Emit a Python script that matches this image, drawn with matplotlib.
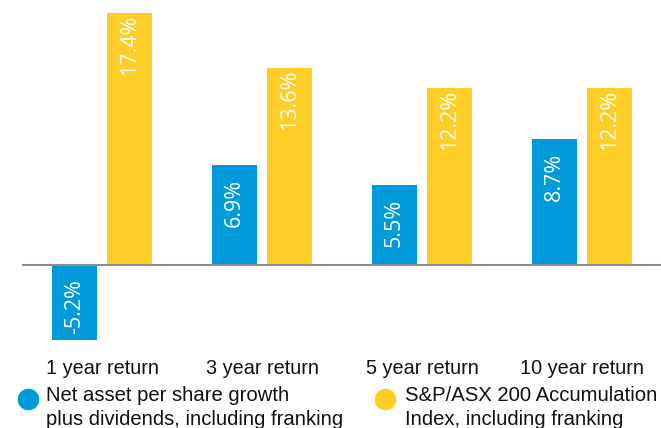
import numpy as np
import matplotlib
matplotlib.use("Agg")
import matplotlib.pyplot as plt
from matplotlib.lines import Line2D
from matplotlib.transforms import offset_copy

categories = ["1 year return", "3 year return", "5 year return", "10 year return"]
nav_growth = [-5.2, 6.9, 5.5, 8.7]
index_return = [17.4, 13.6, 12.2, 12.2]
series_names = ["Net asset per share growth\nplus dividends, including franking",
                "S&P/ASX 200 Accumulation\nIndex, including franking"]

BLUE = "#009ADA"
YELLOW = "#FFCD27"
W, H = 661, 428

plt.rcParams["font.family"] = ["Liberation Sans", "DejaVu Sans"]

fig = plt.figure(figsize=(W / 100, H / 100), dpi=100)
ax = fig.add_axes([22 / W, (H - 345) / H, 640 / W, 345 / H])

x = np.arange(len(categories))
width = 0.28
offset = 0.172

bars_nav = ax.bar(x - offset, nav_growth, width, color=BLUE)
bars_idx = ax.bar(x + offset, index_return, width, color=YELLOW)

ax.set_xlim(-0.5, 3.5)
ax.set_ylim(-5.52, 18.3)
ax.axhline(0, color="#8c8c8c", lw=1.5, zorder=3)
for s in ax.spines.values():
    s.set_visible(False)
ax.set_xticks([])
ax.set_yticks([])

# value labels inside the bars, rotated
for bars, vals in [(bars_nav, nav_growth), (bars_idx, index_return)]:
    for b, v in zip(bars, vals):
        cx = b.get_x() + b.get_width() / 2
        dy = -62 if v >= 0 else 6
        tr = offset_copy(ax.transData, fig=fig, x=0, y=dy, units="dots")
        ax.text(cx, v, f"{v:.1f}%", transform=tr, rotation=90,
                rotation_mode="anchor", ha="left", va="center",
                color="white", fontsize=15.4, family=["Open Sans", "DejaVu Sans"])

# category labels
for xi, c in zip(x, categories):
    tr = offset_copy(ax.transData, fig=fig, x=0, y=-(368 - 265), units="dots")
    ax.text(xi, 0, c, transform=tr, ha="center", va="center",
            fontsize=14.3, color="#111111")

# legend drawn by hand
for (mx, tx), col, name in zip([(28, 46), (385, 405)], [BLUE, YELLOW], series_names):
    fig.add_artist(Line2D([mx / W], [(H - 399) / H], marker="o", ms=14.5, color=col,
                          transform=fig.transFigure, linestyle="none"))
    fig.text(tx / W, (H - 386) / H, name, ha="left", va="top",
             fontsize=14.6, color="#111111", linespacing=1.36)

fig.savefig("out.png", dpi=100)
